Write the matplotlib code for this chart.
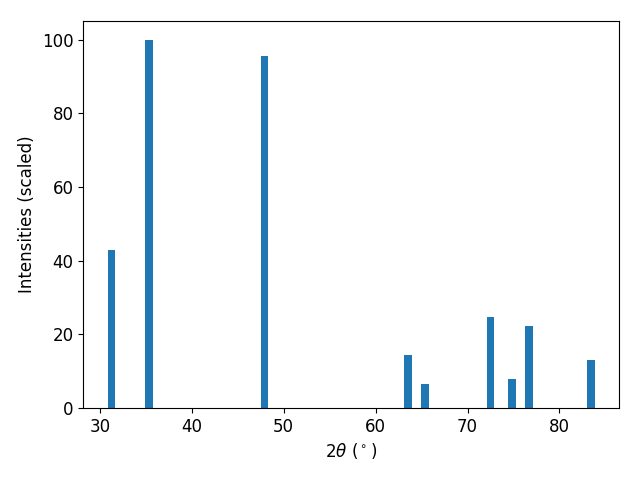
import matplotlib
matplotlib.use("Agg")
from matplotlib import pyplot as plt

# peak positions (2theta, deg) and scaled intensities
two_theta = [31.25, 35.3, 47.9, 63.5, 65.4, 72.5, 74.85, 76.65, 83.4]
intensity = [42.9, 100.0, 95.4, 14.4, 6.5, 24.7, 7.9, 22.2, 13.0]

plt.rcParams.update({'font.size': 12})
fig, ax = plt.subplots(figsize=(6.4, 4.8), dpi=100)
ax.bar(two_theta, intensity, width=0.85)
ax.set_xlabel(r'$2\theta$ ($^\circ$)')
ax.set_ylabel('Intensities (scaled)')
fig.subplots_adjust(left=0.130, right=0.967, top=0.956, bottom=0.15)
fig.savefig('out.png')
